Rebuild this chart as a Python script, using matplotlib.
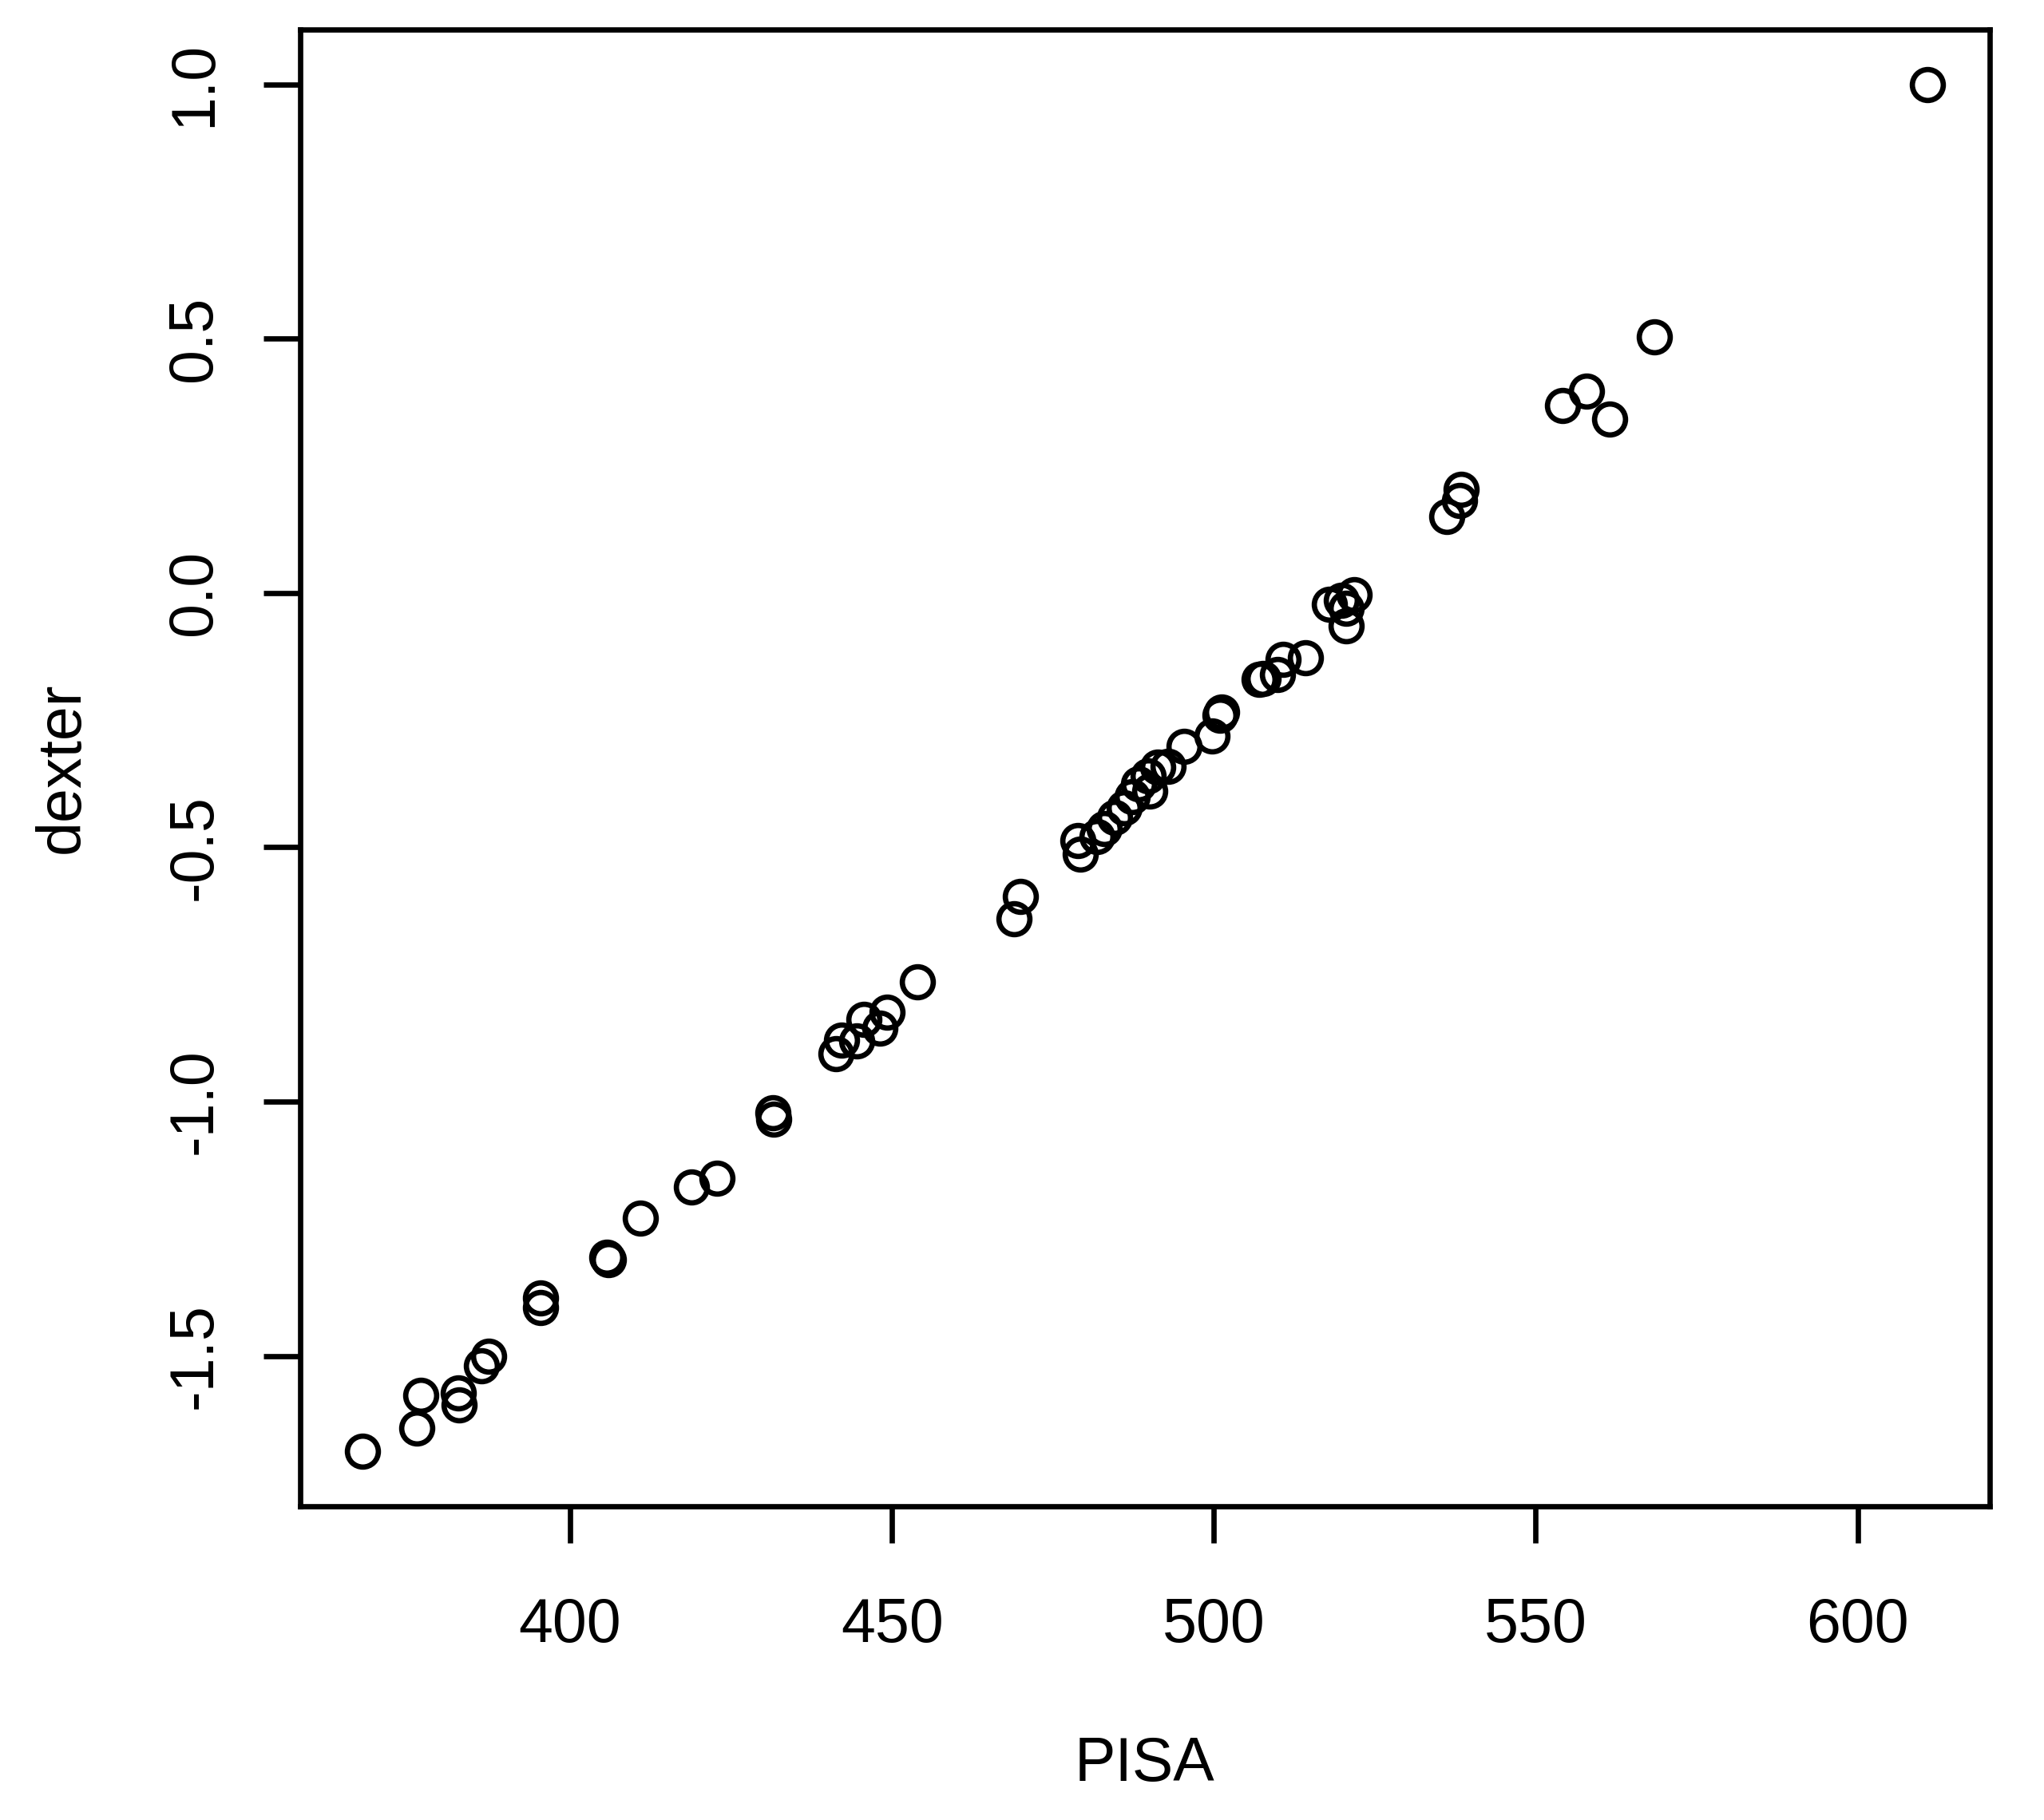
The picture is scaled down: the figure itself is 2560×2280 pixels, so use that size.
import numpy as np
import matplotlib
matplotlib.use("Agg")
import matplotlib.pyplot as plt

# PISA score vs dexter estimate
pisa = [610.8, 568.4, 557.9, 554.2, 561.5,
        538.4, 538.2, 536.2,
        521.8, 519.8, 517.9, 520.6, 520.5,
        514.2, 510.7, 509.9, 507.6, 507.0,
        501.2, 500.9, 499.7, 495.4, 492.9, 491.3,
        489.8, 490.0, 488.3, 487.3, 486.1, 484.6,
        483.0, 481.8, 478.9, 479.3,
        470.0, 469.0,
        454.0, 449.2, 445.6, 448.1, 444.5, 442.2, 441.3,
        431.5, 431.6, 422.8, 418.8, 410.9, 405.7, 406.0,
        395.4, 395.4, 387.4, 386.2, 382.6, 382.7, 376.8, 376.2, 367.8]
dexter = [1.000, 0.504, 0.396, 0.368, 0.342,
          0.203, 0.182, 0.150,
          -0.004, -0.014, -0.022, -0.030, -0.064,
          -0.127, -0.130, -0.160, -0.168, -0.170,
          -0.234, -0.240, -0.281, -0.301, -0.341, -0.343,
          -0.359, -0.390, -0.375, -0.401, -0.422, -0.442,
          -0.463, -0.479, -0.487, -0.513,
          -0.597, -0.641,
          -0.765, -0.824, -0.839, -0.856, -0.881, -0.879, -0.905,
          -1.022, -1.034, -1.150, -1.168, -1.229, -1.306, -1.310,
          -1.386, -1.405, -1.500, -1.519, -1.572, -1.596, -1.578, -1.641, -1.688]

xticks = [400, 450, 500, 550, 600]
yticks = [-1.5, -1.0, -0.5, 0.0, 0.5, 1.0]


def r_lim(v, frac=0.04):
    # same 4% axis expansion that R's plot() uses
    lo, hi = min(v), max(v)
    pad = (hi - lo) * frac
    return lo - pad, hi + pad


plt.rcParams["font.family"] = ["Liberation Sans", "DejaVu Sans"]
plt.rcParams["font.size"] = 18.5

W, H = 2560, 2280
L, R, T, B = 376, 2492, 37, 1887

fig = plt.figure(figsize=(W / 300, H / 300), dpi=300)
ax = fig.add_axes([L / W, 1 - B / H, (R - L) / W, (B - T) / H])

ax.plot(pisa, dexter, "o", mfc="none", mec="black", ms=9.3, mew=1.6)

ax.set_xlim(*r_lim(pisa))
ax.set_ylim(*r_lim(dexter))
ax.set_xticks(xticks)
ax.set_xticklabels([str(t) for t in xticks])
ax.set_yticks(yticks)
ax.set_yticklabels([f"{t:.1f}" for t in yticks], rotation=90, va="center")

for s in ax.spines.values():
    s.set_linewidth(1.6)
ax.tick_params(length=11, width=1.6, color="black")
ax.tick_params(axis="x", pad=16)
ax.tick_params(axis="y", pad=12)

ax.set_xlabel("PISA", va="center")
ax.set_ylabel("dexter", va="center")
ax.xaxis.set_label_coords(0.5, -(2210 - B) / (B - T))
ax.yaxis.set_label_coords(-(L - 78) / (R - L), 0.5)

fig.savefig("out.png", dpi=300)
